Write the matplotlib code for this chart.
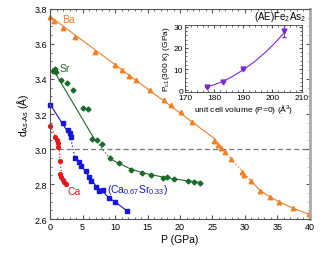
import numpy as np
import matplotlib
matplotlib.use("Agg")
import matplotlib.pyplot as plt
from matplotlib.ticker import MultipleLocator

# measured d(As-As) vs pressure
ba_p = [0, 0.56, 1.95, 3.87, 6.86, 9.95, 11.0, 12.1, 13.2, 15.4, 17.6, 18.6, 20.1, 21.9,
        25.3, 25.9, 26.3, 27.0, 27.9, 29.6, 29.9, 30.9, 32.3, 33.8, 35.3, 37.4, 39.9]
ba_d = [3.753, 3.73, 3.69, 3.638, 3.556, 3.48, 3.451, 3.419, 3.394, 3.339, 3.282, 3.251, 3.213, 3.152,
        3.048, 3.021, 3.004, 2.981, 2.941, 2.870, 2.853, 2.819, 2.762, 2.727, 2.697, 2.665, 2.629]

sr_p = [0.4, 0.67, 0.93, 1.7, 2.63, 3.5, 5.05, 5.8, 6.5, 7.27, 7.94, 9.18, 10.6, 12.4, 14.1,
        15.6, 17.4, 17.95, 19.1, 21.3, 22.1, 23.1]
sr_d = [3.447, 3.457, 3.442, 3.396, 3.375, 3.337, 3.236, 3.227, 3.057, 3.051, 3.029, 2.947, 2.92,
        2.88, 2.863, 2.851, 2.834, 2.842, 2.827, 2.819, 2.813, 2.808]

ca_p = [0, 0.82, 1.02, 1.18, 1.28, 1.44, 1.55, 1.7, 1.95, 2.2, 2.48]
ca_d = [3.133, 3.067, 3.053, 3.033, 3.01, 2.933, 2.857, 2.842, 2.825, 2.813, 2.80]

casr_p = [0, 1.95, 2.73, 3.0, 3.14, 3.87, 4.5, 4.8, 5.57, 5.98, 6.3, 7.1, 7.5, 8.1, 9.1, 9.95, 11.85]
casr_d = [3.253, 3.147, 3.109, 3.091, 3.067, 2.947, 2.924, 2.905, 2.876, 2.838, 2.819, 2.785,
          2.762, 2.766, 2.72, 2.70, 2.644]

# guide-to-the-eye curves (solid / dotted pieces)
ba_fit1_p = [0, 25.3, 27.2]
ba_fit1_d = [3.757, 3.06, 2.97]
ba_fit2_p = [27.2, 30.8]
ba_fit2_d = [2.97, 2.823]
ba_fit3_p = [30.8, 32.3, 33.8, 35.3, 37.4, 40]
ba_fit3_d = [2.823, 2.765, 2.728, 2.698, 2.662, 2.625]

sr_fit1_p = [0.4, 6.6]
sr_fit1_d = [3.458, 3.07]
sr_fit2_p = [6.6, 9.2]
sr_fit2_d = [3.07, 2.945]
sr_fit3_p = [9.2, 10.6, 12.4, 14.1, 15.6, 17.4, 19.1, 21.3, 23.1]
sr_fit3_d = [2.945, 2.918, 2.886, 2.866, 2.853, 2.840, 2.829, 2.818, 2.810]

casr_fit1_p = [0, 3.1]
casr_fit1_d = [3.255, 3.075]
casr_fit2_p = [3.1, 3.8]
casr_fit2_d = [3.075, 2.95]
casr_fit3_p = [3.8, 5, 6, 7, 8, 9, 10, 11, 11.9]
casr_fit3_d = [2.95, 2.895, 2.842, 2.792, 2.760, 2.724, 2.697, 2.670, 2.645]

ca_fit_p = [0, 0.82, 1.02, 1.28, 1.44, 1.6, 1.75, 2.0, 2.48]
ca_fit_d = [3.135, 3.067, 3.053, 3.02, 2.98, 2.91, 2.855, 2.835, 2.80]

# inset: Pc1 vs unit-cell volume
vol = [177.5, 183, 190, 204]
pc1 = [1.5, 4.0, 10.0, 28.0]
pc1_err = [0, 0, 0, 2.8]
vol_fit = [177, 180, 183, 186, 190, 194, 198, 201, 204]
pc1_fit = [1.4, 2.6, 4.2, 6.3, 9.7, 13.7, 18.5, 22.6, 27.2]

c_ba = "#f57f22"
c_sr = "#1a6b2a"
c_ca = "#e8161b"
c_casr = "#1515e0"
c_in = "#7b2ad8"

plt.rcParams["font.family"] = ["Liberation Sans", "DejaVu Sans"]
plt.rcParams["mathtext.fontset"] = "custom"
plt.rcParams["mathtext.rm"] = "Liberation Sans"
plt.rcParams["mathtext.it"] = "Liberation Sans"
fig = plt.figure(figsize=(3.3, 2.55), dpi=100)
ax = fig.add_axes([0.152, 0.137, 0.787, 0.824])

ax.axhline(3.0, color="#777777", lw=0.9, ls=(0, (4, 2.5)), zorder=1)

ax.plot(ba_fit1_p, ba_fit1_d, color=c_ba, lw=0.8)
ax.plot(ba_fit2_p, ba_fit2_d, color=c_ba, lw=0.9, ls=":")
ax.plot(ba_fit3_p, ba_fit3_d, color=c_ba, lw=0.8)
ax.plot(ba_p, ba_d, ls="none", marker="^", ms=3.2, color=c_ba, clip_on=False)

ax.plot(sr_fit1_p, sr_fit1_d, color=c_sr, lw=0.8)
ax.plot(sr_fit2_p, sr_fit2_d, color=c_sr, lw=0.9, ls=":")
ax.plot(sr_fit3_p, sr_fit3_d, color=c_sr, lw=0.8)
ax.plot(sr_p, sr_d, ls="none", marker="D", ms=2.5, color=c_sr, clip_on=False)

ax.plot(casr_fit1_p, casr_fit1_d, color=c_casr, lw=0.8)
ax.plot(casr_fit2_p, casr_fit2_d, color=c_casr, lw=0.9, ls=":")
ax.plot(casr_fit3_p, casr_fit3_d, color=c_casr, lw=0.8)
ax.plot(casr_p, casr_d, ls="none", marker="s", ms=3.3, color=c_casr, clip_on=False)

ax.plot(ca_fit_p, ca_fit_d, color=c_ca, lw=0.9, ls=":")
ax.plot(ca_p, ca_d, ls="none", marker="o", ms=2.7, color=c_ca, clip_on=False)

ax.text(1.8, 3.725, "Ba", color=c_ba, fontsize=7.5)
ax.text(1.4, 3.445, "Sr", color=c_sr, fontsize=7.5)
ax.text(2.6, 2.745, "Ca", color=c_ca, fontsize=7.5)
ax.text(8.7, 2.755, "(Ca$_{0.67}$Sr$_{0.33}$)", color=c_casr, fontsize=7.5)

ax.set_xlim(0, 40)
ax.set_ylim(2.6, 3.8)
ax.xaxis.set_major_locator(MultipleLocator(5))
ax.xaxis.set_minor_locator(MultipleLocator(1))
ax.yaxis.set_major_locator(MultipleLocator(0.2))
ax.yaxis.set_minor_locator(MultipleLocator(0.05))
ax.tick_params(which="both", direction="in", top=True, right=True, labelsize=6.5, pad=2, color="#555555")
ax.tick_params(which="major", length=3)
ax.tick_params(which="minor", length=1.6)
ax.set_xlabel("P (GPa)", fontsize=7.5, labelpad=2)
ax.set_ylabel("d$_{As\u2010As}$ (\u00c5)", fontsize=7.5, labelpad=3)
for s in ax.spines.values():
    s.set_color("#555555")
    s.set_linewidth(0.8)
ax.spines["right"].set_color("#aaaaaa")
ax.spines["right"].set_linewidth(2.0)

ins = fig.add_axes([0.561, 0.634, 0.353, 0.265])
ins.plot(vol_fit, pc1_fit, color=c_in, lw=0.8)
ins.errorbar(vol, pc1, yerr=pc1_err, fmt="v", ms=3.5, color=c_in, elinewidth=0.6, capsize=1.5)
ins.set_xlim(170, 210)
ins.set_ylim(-1, 31)
ins.xaxis.set_major_locator(MultipleLocator(10))
ins.xaxis.set_minor_locator(MultipleLocator(2))
ins.yaxis.set_major_locator(MultipleLocator(10))
ins.yaxis.set_minor_locator(MultipleLocator(2))
ins.tick_params(which="both", direction="in", top=True, right=True, labelsize=6, pad=1.5, color="#555555")
ins.tick_params(which="major", length=2.2)
ins.tick_params(which="minor", length=1.2)
ins.set_xlabel("unit cell volume (P=0) (\u00c5$^3$)", fontsize=6, labelpad=0.5)
ins.set_ylabel("P$_{c1}$(300 K) (GPa)", fontsize=6, labelpad=1)
for s in ins.spines.values():
    s.set_color("#555555")
    s.set_linewidth(0.7)
fig.text(0.927, 0.905, "(AE)Fe$_2$As$_2$", fontsize=7, ha="right", va="bottom")

fig.savefig("out.png", dpi=100)
